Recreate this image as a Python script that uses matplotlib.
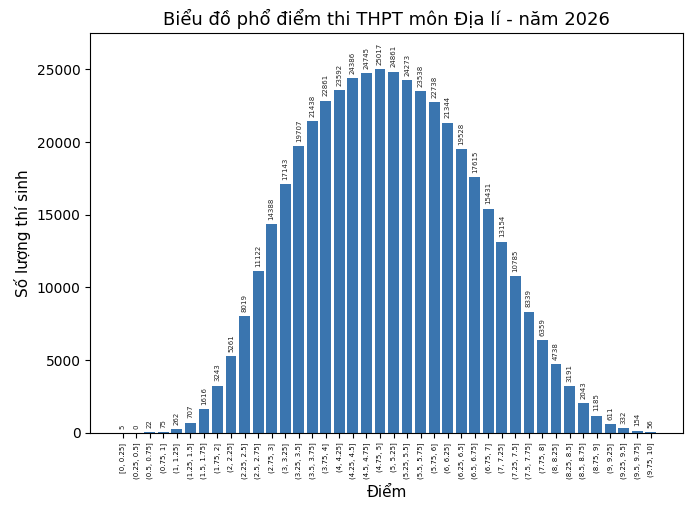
import matplotlib
matplotlib.use("Agg")
import matplotlib.pyplot as plt

edges = [0, 0.25, 0.5, 0.75, 1, 1.25, 1.5, 1.75, 2, 2.25, 2.5, 2.75, 3, 3.25, 3.5, 3.75,
         4, 4.25, 4.5, 4.75, 5, 5.25, 5.5, 5.75, 6, 6.25, 6.5, 6.75, 7, 7.25, 7.5, 7.75,
         8, 8.25, 8.5, 8.75, 9, 9.25, 9.5, 9.75, 10]
counts = [5, 0, 22, 75, 262, 707, 1616, 3243, 5261, 8019, 11122, 14388, 17143, 19707,
          21438, 22861, 23592, 24386, 24745, 25017, 24861, 24273, 23538, 22738, 21344,
          19528, 17615, 15431, 13154, 10785, 8339, 6359, 4738, 3191, 2043, 1185, 611,
          332, 154, 56]

def fmt(v):
    return ('%g' % v)

labels = []
for i in range(len(counts)):
    a, b = edges[i], edges[i + 1]
    if i == 0:
        labels.append('[%s, %s]' % (fmt(a), fmt(b)))
    else:
        labels.append('(%s, %s]' % (fmt(a), fmt(b)))

fig = plt.figure(figsize=(7, 5.14), dpi=100)
ax = fig.add_axes([0.129, 0.158, 0.847, 0.778])
x = list(range(len(counts)))
bars = ax.bar(x, counts, color='#3a75af', width=0.8)
ax.bar_label(bars, labels=[str(c) for c in counts], rotation=90, fontsize=5, padding=3, color='#222222')
ax.set_xticks(x)
ax.set_xticklabels(labels, rotation=90, fontsize=5)
ax.set_ylim(0, max(counts) * 1.1)
ax.set_title('Biểu đồ phổ điểm thi THPT môn Địa lí - năm 2026', fontsize=13)
ax.set_xlabel('Điểm', fontsize=11)
ax.set_ylabel('Số lượng thí sinh', fontsize=11)
ax.tick_params(axis='y', labelsize=10)
fig.savefig('out.png', dpi=100)
